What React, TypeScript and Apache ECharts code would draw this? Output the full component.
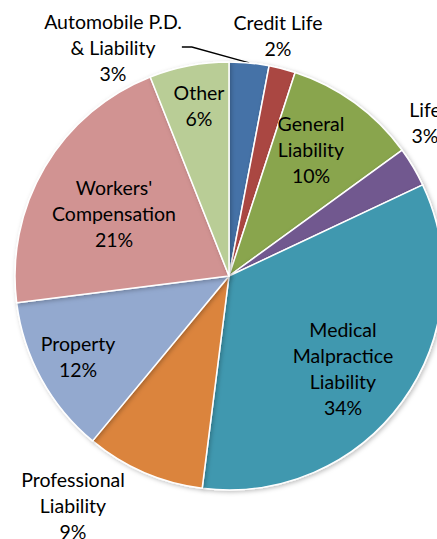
import React, { useEffect, useRef } from "react";
import * as echarts from "echarts";

const categories = [
  "Automobile P.D.\n& Liability",
  "Credit Life",
  "General\nLiability",
  "Life",
  "Medical\nMalpractice\nLiability",
  "Professional\nLiability",
  "Property",
  "Workers'\nCompensation",
  "Other",
];
const values = [3, 2, 10, 3, 34, 9, 12, 21, 6];
const colors = [
  "#4572A7",
  "#AA4643",
  "#89A54E",
  "#71588F",
  "#4198AF",
  "#DB843D",
  "#93A9CF",
  "#D19392",
  "#B9CD96",
];
// label centre positions (pixels)
const labelPos: [number, number][] = [
  [113, 47],
  [278, 35],
  [311, 149],
  [425, 122],
  [343, 368],
  [73, 505],
  [78, 356],
  [114, 213],
  [199, 105],
];

export default function App() {
  const ref = useRef<HTMLDivElement>(null);
  useEffect(() => {
    document.body.style.margin = "0";
    const chart = echarts.init(ref.current!, undefined, { renderer: "svg" });
    chart.setOption({
      animation: false,
      backgroundColor: "#ffffff",
      series: [
        {
          type: "pie",
          center: [229, 276],
          radius: 214,
          startAngle: 90,
          clockwise: true,
          avoidLabelOverlap: false,
          itemStyle: {
            borderColor: "#ffffff",
            borderWidth: 1.5,
            shadowBlur: 4,
            shadowOffsetX: 1.5,
            shadowOffsetY: 1.5,
            shadowColor: "rgba(0,0,0,0.25)",
          },
          label: {
            show: true,
            position: "outside",
            formatter: "{b}\n{c}%",
            fontFamily: "Lato, 'Open Sans', sans-serif",
            fontSize: 19.5,
            lineHeight: 26,
            color: "#000000",
            align: "center",
          },
          labelLine: {
            show: false,
          },
          labelLayout: (p: any) => {
            const pos = labelPos[p.dataIndex];
            return {
              x: pos[0],
              y: pos[1],
              align: "center",
              verticalAlign: "middle",
              hideOverlap: false,
            };
          },
          data: categories.map((c, i) => ({
            name: c,
            value: values[i],
            itemStyle: { color: colors[i] },
            labelLine:
              i === 0
                ? { show: true, lineStyle: { color: "#000", width: 1.3 }, length: 10, length2: 10 }
                : { show: false },
          })),
        },
      ],
    });
    return () => chart.dispose();
  }, []);
  return (
    <div
      ref={ref}
      style={{ width: 437, height: 539, position: "absolute", left: 0, top: 0 }}
    />
  );
}
